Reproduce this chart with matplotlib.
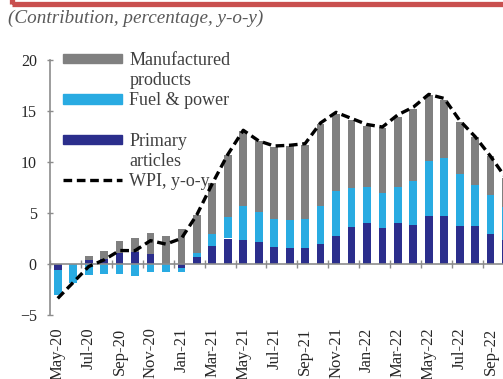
import numpy as np
import matplotlib
matplotlib.use('Agg')
from matplotlib import pyplot as plt
from matplotlib.patches import Patch, Rectangle
from matplotlib.lines import Line2D

plt.rcParams['font.family'] = ['Liberation Serif', 'DejaVu Serif']

months = ['May-20', 'Jun-20', 'Jul-20', 'Aug-20', 'Sep-20', 'Oct-20', 'Nov-20', 'Dec-20',
          'Jan-21', 'Feb-21', 'Mar-21', 'Apr-21', 'May-21', 'Jun-21', 'Jul-21', 'Aug-21',
          'Sep-21', 'Oct-21', 'Nov-21', 'Dec-21', 'Jan-22', 'Feb-22', 'Mar-22', 'Apr-22',
          'May-22', 'Jun-22', 'Jul-22', 'Aug-22', 'Sep-22', 'Oct-22']

# contributions to WPI inflation, percentage points
primary = [-0.6, 0.0, 0.4, 0.5, 1.1, 1.2, 1.0, 0.0,
           -0.35, 0.7, 1.8, 2.5, 2.35, 2.2, 1.63, 1.54,
           1.55, 1.96, 2.75, 3.6, 3.99, 3.5, 4.0, 3.82,
           4.7, 4.7, 3.73, 3.73, 2.94, 2.4]
fuel = [-2.4, -1.9, -1.1, -1.0, -0.95, -1.2, -0.75, -0.8,
        -0.4, 0.35, 1.15, 2.15, 3.35, 2.85, 2.75, 2.77,
        2.9, 3.75, 4.4, 3.88, 3.59, 3.43, 3.58, 4.3,
        5.4, 5.66, 5.07, 4.0, 3.82, 3.2]
manufactured = [0.0, 0.0, 0.35, 0.8, 1.15, 1.3, 2.0, 2.7,
                3.4, 3.75, 4.95, 6.05, 7.3, 7.0, 7.1, 7.26,
                7.2, 8.0, 7.6, 6.6, 5.98, 6.37, 6.86, 7.1,
                6.5, 5.7, 5.15, 4.73, 3.8, 2.8]
wpi = [-3.37, -1.81, -0.25, 0.41, 1.32, 1.31, 2.29, 1.95,
       2.51, 4.83, 7.89, 10.74, 13.11, 12.07, 11.57, 11.64,
       11.80, 13.83, 14.87, 14.27, 13.68, 13.43, 14.63, 15.38,
       16.63, 16.23, 14.07, 12.48, 10.55, 8.39]

c_manuf = '#808080'
c_fuel = '#29ABE2'
c_prim = '#2B2E8C'
axis_col = '#8C8C8C'

fig = plt.figure(figsize=(5.03, 3.79), dpi=100)
ax = fig.add_axes([50 / 503, 1 - 315 / 379, 1 - 50 / 503, 255 / 379])

x = np.arange(len(months))
pos_base = np.zeros(len(months))
neg_base = np.zeros(len(months))
for vals, col in [(primary, c_prim), (fuel, c_fuel), (manufactured, c_manuf)]:
    v = np.array(vals)
    base = np.where(v >= 0, pos_base, neg_base)
    ax.bar(x, v, bottom=base, width=0.5, color=col, zorder=2)
    pos_base += np.where(v >= 0, v, 0)
    neg_base += np.where(v < 0, v, 0)

ax.plot(x, wpi, color='black', lw=2.4, linestyle=(0, (2.6, 1.4)), zorder=3)

ax.set_ylim(-5, 20)
ax.set_xlim(-0.45, 28.8)
ax.set_yticks(range(-5, 21, 5))
ax.tick_params(axis='y', direction='inout', length=5, width=1, color=axis_col,
               labelsize=11.5, pad=7, labelcolor='#262626')

# axis line through zero with ticks between every other month
ax.spines['bottom'].set_position(('data', 0))
ax.spines['bottom'].set_color(axis_col)
ax.spines['bottom'].set_linewidth(1.2)
ax.spines['left'].set_color(axis_col)
ax.spines['left'].set_linewidth(1.2)
ax.spines['top'].set_visible(False)
ax.spines['right'].set_visible(False)
ax.set_xticks(x[::2] - 0.5)
ax.set_xticklabels([])
ax.tick_params(axis='x', direction='inout', length=6, width=1, color=axis_col)

sec = ax.secondary_xaxis('bottom')
sec.set_xticks(x[::2], months[::2], rotation=90)
sec.tick_params(length=0, pad=9, labelsize=12, labelcolor='#262626')
sec.spines['bottom'].set_visible(False)

handles = [Patch(color=c_manuf), Patch(color='none'), Patch(color=c_fuel), Patch(color='none'),
           Patch(color=c_prim), Patch(color='none'),
           Line2D([], [], color='black', lw=2.4, linestyle=(0, (2.6, 1.4)))]
labels = ['Manufactured', 'products', 'Fuel & power', ' ', 'Primary', 'articles', 'WPI, y-o-y']
ax.legend(handles, labels, loc='upper left', bbox_to_anchor=(0.028, 1.03), frameon=False,
          fontsize=13, handlelength=3.3, handleheight=0.4, handletextpad=0.4,
          labelspacing=0.17, borderpad=0, borderaxespad=0, labelcolor='#404040')

fig.text(8 / 503, 1 - 10 / 379, '(Contribution, percentage, y-o-y)', fontsize=13.8,
         style='italic', color='#595959', va='top', ha='left')

fig.patches.append(Rectangle((12 / 503, 1 - 4 / 379), 1.0, 0.2, transform=fig.transFigure,
                             fill=False, edgecolor='#C9504F', lw=3.8, clip_on=False))

fig.savefig('out.png', dpi=100)
